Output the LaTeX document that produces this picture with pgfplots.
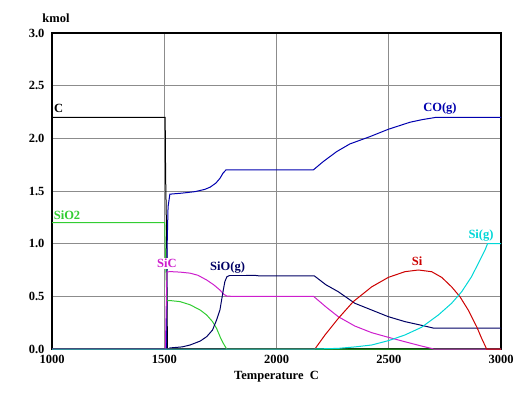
\documentclass[border=0pt]{standalone}
\usepackage{pgfplots}
\pgfplotsset{compat=1.18}
\usepackage{fontspec}
\setmainfont{Liberation Serif}
\definecolor{cC}{RGB}{0,0,0}
\definecolor{cCO}{RGB}{0,0,175}
\definecolor{cSiO2}{RGB}{50,205,50}
\definecolor{cSiC}{RGB}{205,30,205}
\definecolor{cSiO}{RGB}{0,0,100}
\definecolor{cSi}{RGB}{205,0,0}
\definecolor{cSig}{RGB}{0,215,215}
\tikzset{lbl/.style={font=\bfseries\fontsize{12.5}{14}\selectfont, fill=white, inner sep=1pt}}
\begin{document}
\begin{tikzpicture}
\useasboundingbox (-52pt,-61pt) rectangle (473pt,349pt);
\begin{axis}[
  width=449pt, height=316pt, scale only axis,
  xmin=1000, xmax=3000, ymin=0, ymax=3,
  xtick={1000,1500,2000,2500,3000},
  ytick={0,0.5,1,1.5,2,2.5,3},
  /pgf/number format/assume math mode=true,
  xticklabel style={font=\bfseries\fontsize{12.5}{14}\selectfont, yshift=-3pt, /pgf/number format/1000 sep={}},
  yticklabel style={font=\bfseries\fontsize{12.5}{14}\selectfont, xshift=-4pt, /pgf/number format/fixed, /pgf/number format/fixed zerofill, /pgf/number format/precision=1},
  scaled ticks=false,
  major tick length=0pt,
  grid=major,
  major grid style={draw=gray!90, line width=0.9pt},
  axis line style={line width=2.2pt, black},
  clip=false,
  every axis plot/.append style={line width=1pt, no markers},
]
% C
\addplot[cC] coordinates {(1000,2.2)(1504,2.2)(1506,1.65)(1511,1.0)(1514,0)(3000,0)};
% CO(g)
\addplot[cCO] coordinates {(1000,0)(1510,0)(1513,1.0)(1517,1.35)(1525,1.47)(1580,1.48)(1637,1.494)(1680,1.515)(1704,1.536)(1730,1.575)(1748,1.62)(1762,1.67)(1775,1.70)(2164,1.70)(2208,1.779)(2268,1.874)(2327,1.947)(2416,2.016)(2498,2.086)(2595,2.153)(2650,2.178)(2713,2.20)(3000,2.20)};
% SiO2
\addplot[cSiO2] coordinates {(1000,1.2)(1502,1.2)(1505,0.9)(1512,0.46)(1525,0.46)(1570,0.45)(1615,0.42)(1660,0.37)(1689,0.323)(1715,0.26)(1733,0.196)(1750,0.11)(1763,0.054)(1778,0)(3000,0)};
% SiC
\addplot[cSiC] coordinates {(1000,0)(1505,0)(1512,0.73)(1525,0.735)(1570,0.73)(1615,0.72)(1650,0.70)(1689,0.655)(1720,0.61)(1748,0.56)(1765,0.52)(1778,0.503)(1800,0.5)(2165,0.5)(2220,0.40)(2275,0.307)(2349,0.218)(2424,0.155)(2498,0.111)(2572,0.069)(2646,0.028)(2691,0.005)(2700,0)(3000,0)};
% SiO(g)
\addplot[cSiO] coordinates {(1000,0)(1520,0)(1525,0.01)(1580,0.02)(1615,0.038)(1660,0.075)(1689,0.117)(1715,0.18)(1733,0.275)(1748,0.37)(1763,0.56)(1770,0.64)(1779,0.686)(1793,0.70)(1900,0.70)(1920,0.695)(2168,0.695)(2220,0.61)(2275,0.544)(2349,0.434)(2424,0.37)(2498,0.307)(2572,0.26)(2646,0.225)(2698,0.199)(3000,0.199)};
% Si
\addplot[cSi] coordinates {(1000,0)(2171,0)(2216,0.133)(2275,0.29)(2342,0.45)(2424,0.59)(2498,0.68)(2572,0.734)(2632,0.75)(2691,0.734)(2736,0.68)(2780,0.59)(2817,0.497)(2854,0.37)(2892,0.21)(2914,0.10)(2936,0)(3000,0)};
% Si(g)
\addplot[cSig] coordinates {(1000,0)(2171,0)(2275,0.006)(2350,0.02)(2424,0.038)(2498,0.079)(2572,0.133)(2646,0.206)(2721,0.323)(2780,0.434)(2825,0.544)(2869,0.687)(2899,0.814)(2929,0.94)(2940,1.0)(3000,1.0)};
% labels
\node[lbl, text=cC] at (axis cs:1030,2.28) {C};
\node[lbl, text=cSiO2] at (axis cs:1067,1.27) {SiO2};
\node[lbl, text=cSiC] at (axis cs:1512,0.81) {SiC};
\node[lbl, text=cSiO] at (axis cs:1782,0.77) {SiO(g)};
\node[lbl, text=cCO] at (axis cs:2728,2.285) {CO(g)};
\node[lbl, text=cSi] at (axis cs:2626,0.83) {Si};
\node[lbl, text=cSig] at (axis cs:2911,1.08) {Si(g)};
\node[lbl, text=black] at (rel axis cs:0,1) [xshift=4pt, yshift=15pt] {kmol};
\node[lbl, text=black] at (rel axis cs:0.5,0) [yshift=-27.7pt] {Temperature\ \ C};
\end{axis}
\end{tikzpicture}
\end{document}
